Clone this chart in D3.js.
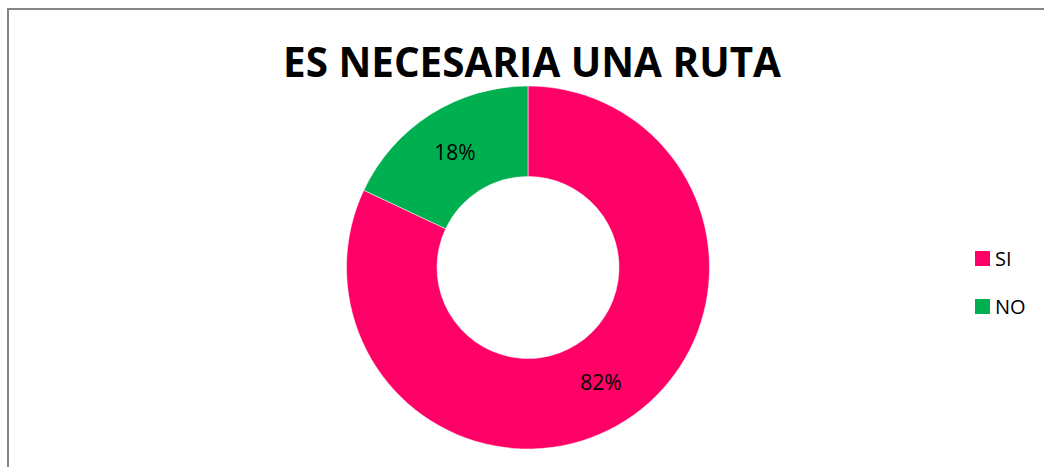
<!DOCTYPE html>
<html>
<head>
<meta charset="utf-8">
<script src="https://cdn.jsdelivr.net/npm/d3@7"></script>
<style>
  body { margin: 0; background: #fff; }
  svg { display: block; }
</style>
</head>
<body>
<div id="chart"></div>
<script>
// data
const categories = ['SI', 'NO'];
const values = [82, 18];
const colors = ['#FF0066', '#00B050'];
const title = 'ES NECESARIA UNA RUTA';

const width = 1044, height = 467;
const cx = 528, cy = 267.5;
const outerR = 181.5, innerR = 91;
const font = '"Open Sans", "Liberation Sans", sans-serif';

const svg = d3.select('#chart').append('svg')
    .attr('width', width)
    .attr('height', height);

// chart frame (only top and left are visible in the crop)
svg.append('rect')
    .attr('x', 8).attr('y', 9)
    .attr('width', width + 20).attr('height', height + 20)
    .attr('fill', 'none')
    .attr('stroke', '#858585')
    .attr('stroke-width', 2);

const t = svg.append('text')
    .attr('x', 532).attr('y', 77)
    .attr('text-anchor', 'middle')
    .style('font-family', font)
    .style('font-weight', 'bold')
    .style('font-size', '38px')
    .attr('fill', '#000')
    .text(title);
const tw = t.node().getComputedTextLength();
if (tw > 0) t.style('font-size', (38 * 498 / tw) + 'px');

const pieData = d3.pie().sort(null)(values);
const arc = d3.arc().innerRadius(innerR).outerRadius(outerR);
const labelArc = d3.arc().innerRadius((innerR + outerR) / 2).outerRadius((innerR + outerR) / 2);

const g = svg.append('g').attr('transform', `translate(${cx},${cy})`);

g.selectAll('path')
    .data(pieData)
    .enter().append('path')
    .attr('d', arc)
    .attr('fill', (d, i) => colors[i])
    .attr('stroke', '#fff')
    .attr('stroke-width', 0.5);

g.selectAll('text.lbl')
    .data(pieData)
    .enter().append('text')
    .attr('class', 'lbl')
    .attr('transform', d => `translate(${labelArc.centroid(d)})`)
    .attr('text-anchor', 'middle')
    .attr('dy', '0.36em')
    .style('font-family', font)
    .style('font-size', '21px')
    .attr('fill', '#000')
    .text((d, i) => values[i] + '%');

const legend = svg.append('g');
const items = legend.selectAll('g')
    .data(categories)
    .enter().append('g')
    .attr('transform', (d, i) => `translate(975,${251 + i * 48})`);

items.append('rect')
    .attr('width', 15).attr('height', 15)
    .attr('fill', (d, i) => colors[i]);

items.append('text')
    .attr('x', 20).attr('y', 15)
    .style('font-family', font)
    .style('font-size', '20px')
    .attr('fill', '#000')
    .text(d => d);
</script>
</body>
</html>
